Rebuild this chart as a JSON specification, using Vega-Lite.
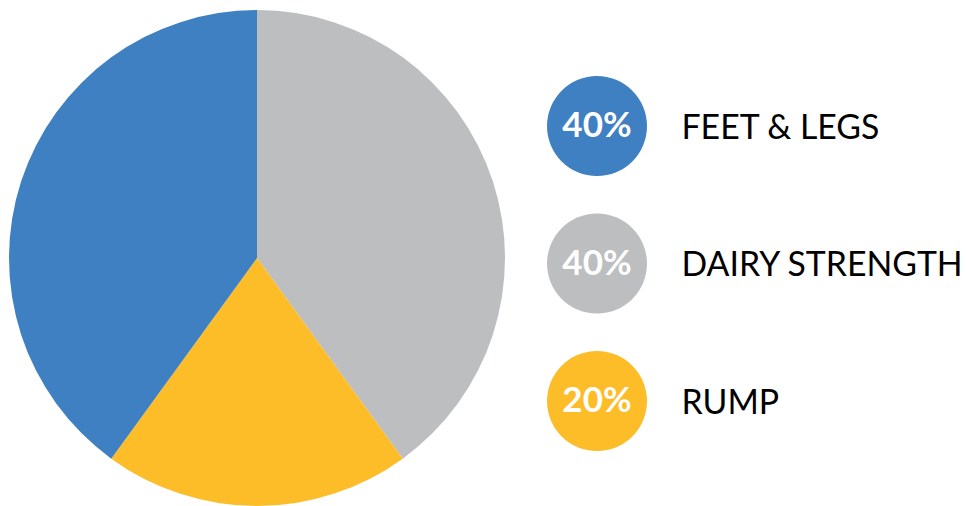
{
  "$schema": "https://vega.github.io/schema/vega-lite/v6.json",
  "padding": {"left": 9, "top": 10, "right": 0, "bottom": 0},
  "background": "white",
  "data": {
    "values": [
      {"category": "DAIRY STRENGTH", "share": 0.4, "slice": 1},
      {"category": "RUMP", "share": 0.2, "slice": 2},
      {"category": "FEET & LEGS", "share": 0.4, "slice": 3}
    ]
  },
  "spacing": 42,
  "hconcat": [
    {
      "width": 496,
      "height": 496,
      "mark": {"type": "arc", "outerRadius": 248},
      "encoding": {
        "theta": {"field": "share", "type": "quantitative", "stack": true},
        "order": {"field": "slice", "type": "quantitative"},
        "color": {
          "field": "category",
          "type": "nominal",
          "scale": {
            "domain": ["FEET & LEGS", "DAIRY STRENGTH", "RUMP"],
            "range": ["#3F80C2", "#BDBEC0", "#FDBD29"]
          },
          "legend": null
        }
      }
    },
    {
      "width": 100,
      "height": 496,
      "encoding": {
        "y": {
          "field": "category",
          "type": "nominal",
          "sort": ["FEET & LEGS", "DAIRY STRENGTH", "RUMP"],
          "scale": {"type": "point", "padding": 0.8036, "align": 0.525},
          "axis": {
            "orient": "right",
            "title": null,
            "domain": false,
            "ticks": false,
            "labelPadding": 34,
            "labelFont": "Lato",
            "labelFontSize": 33.8,
            "labelColor": "#000000",
            "labelLimit": 0,
            "labelAlign": "left",
            "labelBaseline": "middle",
            "labelOffset": 2
          }
        }
      },
      "layer": [
        {
          "mark": {"type": "point", "shape": "circle", "filled": true, "size": 10000, "opacity": 1},
          "encoding": {
            "color": {
              "field": "category",
              "type": "nominal",
              "scale": {
                "domain": ["FEET & LEGS", "DAIRY STRENGTH", "RUMP"],
                "range": ["#3F80C2", "#BDBEC0", "#FDBD29"]
              },
              "legend": null
            }
          }
        },
        {
          "mark": {"type": "text", "font": "Lato", "fontWeight": "bold", "fontSize": 35, "color": "white", "baseline": "middle", "align": "center"},
          "encoding": {
            "text": {"field": "share", "type": "quantitative", "format": ".0%"}
          }
        }
      ]
    }
  ],
  "config": {
    "view": {"stroke": null}
  }
}
